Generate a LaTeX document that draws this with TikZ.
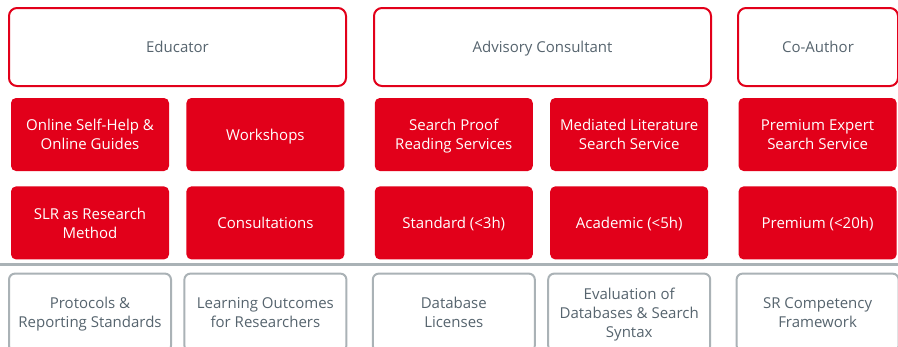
\documentclass[tikz,border=0pt]{standalone}
\usepackage{fontspec}
\setmainfont{Open Sans}
\usepackage{xcolor}
\usetikzlibrary{positioning}
\definecolor{brandred}{HTML}{E2001A}
\definecolor{slate}{HTML}{56646E}
\definecolor{rulegray}{HTML}{AAB2B6}

\begin{document}
\begin{tikzpicture}[
    x=1pt, y=-1pt,
    node distance=15pt,
    font=\fontsize{15}{19}\selectfont,
    every node/.style={text depth=0pt},
    role/.style={rectangle, draw=brandred, line width=2pt, rounded corners=8pt, minimum width=337pt, minimum height=78pt, text=slate, fill=white},
    service/.style={rectangle, fill=brandred, rounded corners=5pt, minimum width=158pt, minimum height=73pt, text=white, align=center, inner sep=2pt},
    basis/.style={rectangle, draw=rulegray, line width=2pt, rounded corners=6pt, minimum width=162pt, minimum height=78pt, text=slate, align=center, inner sep=2pt}
]
    \useasboundingbox (0,0) rectangle (898,346);
    \fill[white] (0,0) rectangle (898,346);
    \clip (0,0) rectangle (898,346);

    \node[role] (educator) at (177.5,47) {Educator};
    \node[role, right=26pt of educator] (advisory) {Advisory Consultant};
    \node[role, minimum width=160pt, right=25pt of advisory] (coauthor) {Co-Author};

    \node[service] (selfhelp) at (90,134.5) {Online Self-Help \&\\Online Guides};
    \node[service, right=17pt of selfhelp] (workshops) {Workshops};
    \node[service, right=30pt of workshops] (proof) {Search Proof\\Reading Services};
    \node[service, right=17pt of proof] (mediated) {Mediated Literature\\Search Service};
    \node[service, right=30pt of mediated] (expert) {Premium Expert\\Search Service};

    \node[service, below=of selfhelp] (slr) {SLR as Research\\Method};
    \node[service, below=of workshops] (consult) {Consultations};
    \node[service, below=of proof] (standard) {Standard (<3h)};
    \node[service, below=of mediated] (academic) {Academic (<5h)};
    \node[service, below=of expert] (premium) {Premium (<20h)};

    \node[basis, below=13pt of slr] (protocols) {Protocols \&\\Reporting Standards};
    \node[basis, below=13pt of consult] (outcomes) {Learning Outcomes\\for Researchers};
    \node[basis, below=13pt of standard] (licenses) {Database\\Licenses};
    \node[basis, below=13pt of academic] (evaluation) {Evaluation of\\Databases \& Search\\Syntax};
    \node[basis, below=13pt of premium] (framework) {SR Competency\\Framework};

    \coordinate (rulewest) at (0,264);
    \coordinate (ruleeast) at (898,264);
    \draw[rulegray, line width=3pt] (rulewest) -- (ruleeast);
\end{tikzpicture}
\end{document}
